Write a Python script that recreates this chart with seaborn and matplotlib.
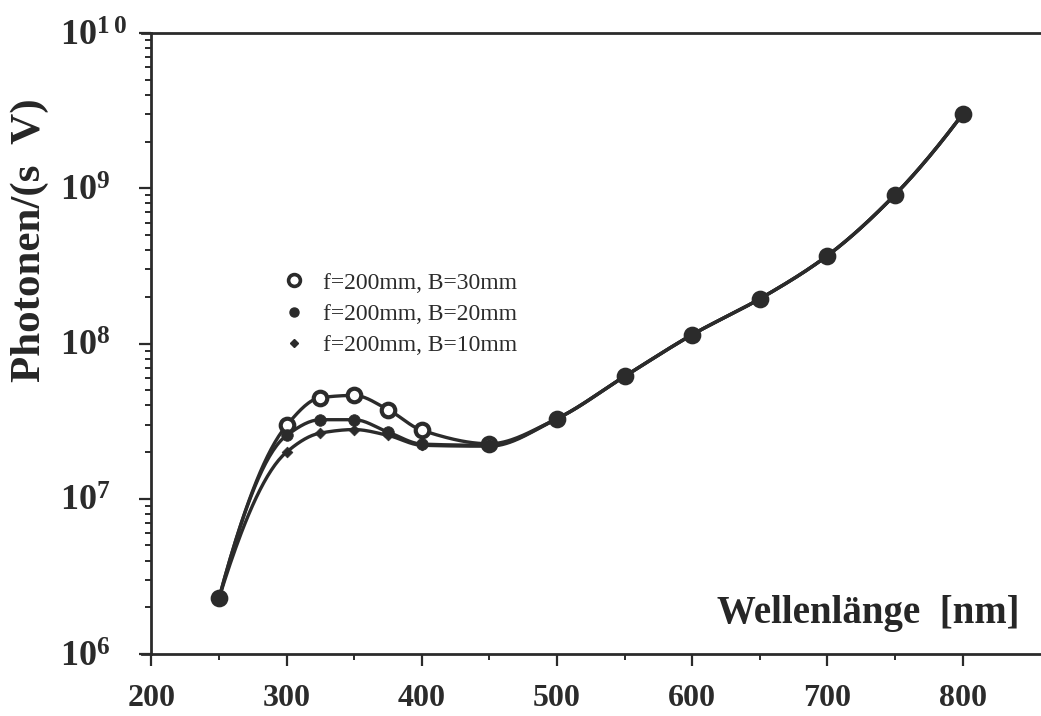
import numpy as np
import pandas as pd
import matplotlib
matplotlib.use("Agg")
import matplotlib.pyplot as plt
from matplotlib.lines import Line2D
from matplotlib.ticker import FixedLocator, LogLocator, NullFormatter
import seaborn as sns

# Measured photon flux per (s V) at each wavelength, three aperture settings
wavelength = [250, 300, 325, 350, 375, 400, 450, 500, 550, 600, 650, 700, 750, 800]
flux_b30 = [2.29e6, 2.97e7, 4.48e7, 4.63e7, 3.75e7, 2.76e7, 2.26e7,
            3.28e7, 6.14e7, 1.14e8, 1.94e8, 3.68e8, 9.08e8, 3.0e9]
flux_b20 = [2.29e6, 2.56e7, 3.23e7, 3.23e7, 2.69e7, 2.25e7, 2.21e7,
            3.28e7, 6.14e7, 1.14e8, 1.94e8, 3.68e8, 9.08e8, 3.0e9]
flux_b10 = [2.29e6, 2.00e7, 2.65e7, 2.79e7, 2.56e7, 2.21e7, 2.18e7,
            3.28e7, 6.14e7, 1.14e8, 1.94e8, 3.68e8, 9.08e8, 3.0e9]
series_labels = ["f=200mm, B=30mm", "f=200mm, B=20mm", "f=200mm, B=10mm"]

x_ticks = [200, 300, 400, 500, 600, 700, 800]
x_tick_labels = ["200", "300", "400", "500", "600", "700", "800"]
y_ticks = [1e6, 1e7, 1e8, 1e9, 1e10]
y_tick_labels = [r"$\mathbf{10^{6}}$", r"$\mathbf{10^{7}}$", r"$\mathbf{10^{8}}$",
                 r"$\mathbf{10^{9}}$", r"$\mathbf{10^{1\,0}}$"]

INK = "#2b2b2b"

sns.set_theme(style="white")
plt.rcParams["font.family"] = ["Liberation Serif", "DejaVu Serif"]
plt.rcParams["mathtext.fontset"] = "custom"
plt.rcParams["mathtext.rm"] = "Liberation Serif:bold"
plt.rcParams["mathtext.bf"] = "Liberation Serif:bold"
plt.rcParams["text.color"] = INK


def smooth_curve(x, y, n=400):
    """Monotone cubic (Fritsch-Carlson) connecting curve through the points,
    evaluated in log10 space so it follows the logarithmic axis."""
    x = np.asarray(x, float)
    ly = np.log10(np.asarray(y, float))
    h = np.diff(x)
    d = np.diff(ly) / h
    m = np.zeros_like(ly)
    for k in range(1, len(x) - 1):
        if d[k - 1] * d[k] > 0:
            w1 = 2 * h[k] + h[k - 1]
            w2 = h[k] + 2 * h[k - 1]
            m[k] = (w1 + w2) / (w1 / d[k - 1] + w2 / d[k])
    for k0, a, b, ha, hb in [(0, d[0], d[1], h[0], h[1]),
                             (-1, d[-1], d[-2], h[-1], h[-2])]:
        mm = ((2 * ha + hb) * a - ha * b) / (ha + hb)
        if np.sign(mm) != np.sign(a):
            mm = 0.0
        elif np.sign(a) != np.sign(b) and abs(mm) > abs(3 * a):
            mm = 3 * a
        m[k0] = mm
    xs = np.linspace(x[0], x[-1], n)
    idx = np.clip(np.searchsorted(x, xs) - 1, 0, len(x) - 2)
    t = (xs - x[idx]) / h[idx]
    h00 = 2 * t**3 - 3 * t**2 + 1
    h10 = t**3 - 2 * t**2 + t
    h01 = -2 * t**3 + 3 * t**2
    h11 = t**3 - t**2
    ys = (h00 * ly[idx] + h10 * h[idx] * m[idx]
          + h01 * ly[idx + 1] + h11 * h[idx] * m[idx + 1])
    return xs, 10 ** ys


series = [flux_b30, flux_b20, flux_b10]
points = pd.DataFrame({
    "wavelength": wavelength * 3,
    "flux": flux_b30 + flux_b20 + flux_b10,
    "setting": np.repeat(series_labels, len(wavelength)),
})
curve_frames = []
for lab, vals in zip(series_labels, series):
    xs, ys = smooth_curve(wavelength, vals)
    curve_frames.append(pd.DataFrame({"wavelength": xs, "flux": ys, "setting": lab}))
curves = pd.concat(curve_frames, ignore_index=True)

fig = plt.figure(figsize=(10.41, 7.16), dpi=100)
ax = fig.add_axes([0.1364, 0.0866, 0.8636, 0.8673])

sns.lineplot(data=curves, x="wavelength", y="flux", hue="setting",
             palette=[INK] * 3, linewidth=2.4, legend=False, ax=ax,
             estimator=None, sort=False)

marker_styles = {
    series_labels[0]: dict(marker="o", s=95, facecolor="white", edgecolor=INK, linewidth=3.0),
    series_labels[1]: dict(marker="o", s=70, facecolor=INK, edgecolor=INK, linewidth=0.5),
    series_labels[2]: dict(marker="D", s=30, facecolor=INK, edgecolor=INK, linewidth=0.5),
}
for lab in series_labels:
    sub = points[points["setting"] == lab]
    sns.scatterplot(data=sub, x="wavelength", y="flux", ax=ax, zorder=3,
                    legend=False, **marker_styles[lab])

ax.set_yscale("log")
ax.set_xlim(193, 858)
ax.set_ylim(1e6, 1e10)

ax.spines["right"].set_visible(False)
for side in ["left", "bottom", "top"]:
    ax.spines[side].set_color(INK)
    ax.spines[side].set_linewidth(2.0)
ax.spines["left"].set_position(("data", 200))

ax.xaxis.set_major_locator(FixedLocator(x_ticks))
ax.set_xticklabels(x_tick_labels)
ax.xaxis.set_minor_locator(FixedLocator([250, 350, 450, 550, 650, 750]))
ax.set_yticks(y_ticks)
ax.set_yticklabels(y_tick_labels)
ax.yaxis.set_minor_locator(LogLocator(base=10, subs=np.arange(2, 10)))
ax.yaxis.set_minor_formatter(NullFormatter())

ax.tick_params(axis="both", which="both", direction="out", colors=INK,
               left=True, bottom=True, top=False, right=False)
ax.tick_params(axis="both", which="major", length=8.5, width=1.6)
ax.tick_params(axis="both", which="minor", length=4.5, width=1.4)
ax.tick_params(axis="x", which="major", pad=13, labelsize=23)
ax.tick_params(axis="y", which="major", pad=57, labelsize=26)
for lbl in ax.get_xticklabels():
    lbl.set_fontweight("bold")
for lbl in ax.get_yticklabels():
    lbl.set_horizontalalignment("left")

ax.set_ylabel("Photonen/(s  V)", fontsize=31, fontweight="bold")
ax.yaxis.label.set_va("center")
ax.yaxis.set_label_coords(-0.1246, 0.667)

ax.set_xlabel("Wellenlänge  [nm]", fontsize=28, fontweight="bold")
ax.xaxis.label.set_ha("right")
ax.xaxis.label.set_va("center")
ax.xaxis.set_label_coords(0.9766, 0.066)

handles = [
    Line2D([], [], linestyle="none", marker="o", markersize=8.5,
           markerfacecolor="white", markeredgecolor=INK, markeredgewidth=2.6),
    Line2D([], [], linestyle="none", marker="o", markersize=6.5,
           markerfacecolor=INK, markeredgecolor=INK),
    Line2D([], [], linestyle="none", marker="D", markersize=4.5,
           markerfacecolor=INK, markeredgecolor=INK),
]
fig.legend(handles, series_labels, loc="upper left",
           bbox_to_anchor=(282 / 1041, 1 - 272 / 716), bbox_transform=fig.transFigure,
           frameon=False, fontsize=17, borderpad=0, borderaxespad=0,
           handlelength=1.0, handletextpad=0.75, labelspacing=0.42)

fig.savefig("out.png", dpi=100, facecolor="white")
